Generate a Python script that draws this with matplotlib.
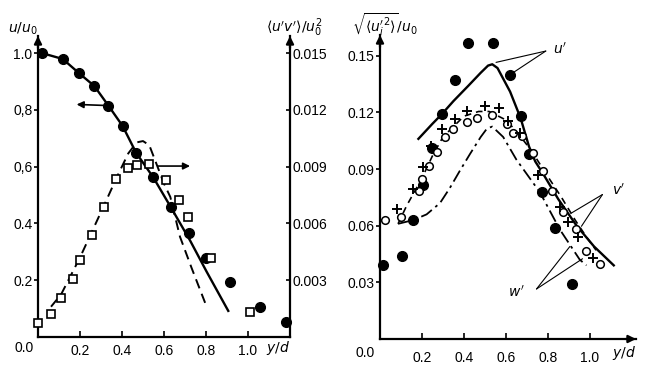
import matplotlib
matplotlib.use('Agg')
import matplotlib.pyplot as plt

plt.rcParams['font.family'] = ['Liberation Sans', 'DejaVu Sans']
plt.rcParams['mathtext.fontset'] = 'dejavusans'

# --- left panel: mean velocity u/u0 (circles) and shear stress <u'v'>/u0^2 (squares)
u_x = [0.018, 0.118, 0.197, 0.268, 0.335, 0.403, 0.467, 0.549, 0.631, 0.717, 0.802, 0.915, 1.059, 1.182]
u_y = [1.0, 0.979, 0.928, 0.884, 0.815, 0.743, 0.649, 0.562, 0.459, 0.367, 0.277, 0.195, 0.105, 0.054]
u_fit_x = [0.018, 0.118, 0.197, 0.268, 0.335, 0.403, 0.467, 0.549, 0.631, 0.724, 0.803, 0.906]
u_fit_y = [1.0, 0.979, 0.928, 0.884, 0.815, 0.743, 0.649, 0.562, 0.459, 0.34, 0.23, 0.092]

uv_x = [0.0, 0.06, 0.11, 0.165, 0.2, 0.256, 0.314, 0.373, 0.427, 0.47, 0.529, 0.61, 0.671, 0.716, 0.824, 1.01]
uv_y = [0.00075, 0.00122, 0.00204, 0.00305, 0.00405, 0.0054, 0.00689, 0.00836, 0.00894,
        0.00909, 0.00912, 0.0083, 0.00723, 0.00636, 0.00419, 0.00134]
uv_fit_x = [0.062, 0.11, 0.2, 0.3, 0.38, 0.43, 0.47, 0.50, 0.53, 0.557, 0.60, 0.63, 0.676, 0.732, 0.803]
uv_fit_y = [0.0016, 0.00225, 0.0042, 0.0066, 0.00855, 0.0097, 0.01028, 0.01035, 0.01013,
            0.00935, 0.0081, 0.0074, 0.0053, 0.00363, 0.0016]

# --- right panel: rms fluctuations
up_x = [0.013, 0.103, 0.159, 0.206, 0.246, 0.294, 0.357, 0.42, 0.537, 0.619, 0.67, 0.711, 0.77, 0.833, 0.917]
up_y = [0.039, 0.044, 0.063, 0.0815, 0.101, 0.119, 0.137, 0.157, 0.157, 0.140, 0.118, 0.098, 0.078, 0.059, 0.029]
up_fit_x = [0.183, 0.25, 0.294, 0.35, 0.42, 0.48, 0.515, 0.535, 0.56, 0.62, 0.67, 0.71, 0.74, 0.78, 0.85,
            0.937, 1.02, 1.114]
up_fit_y = [0.106, 0.114, 0.119, 0.126, 0.134, 0.141, 0.1448, 0.1455, 0.1435, 0.131, 0.117, 0.102, 0.094,
            0.087, 0.074, 0.06, 0.049, 0.039]

vp_x = [0.024, 0.098, 0.187, 0.198, 0.235, 0.27, 0.31, 0.349, 0.413, 0.46, 0.532, 0.603, 0.635, 0.675,
        0.73, 0.778, 0.818, 0.873, 0.933, 0.984, 1.05]
vp_y = [0.063, 0.0644, 0.0785, 0.0847, 0.0914, 0.0988, 0.1068, 0.111, 0.1147, 0.1168, 0.1186, 0.1138,
        0.109, 0.1073, 0.0985, 0.089, 0.0785, 0.067, 0.058, 0.0467, 0.0395]
vp_fit_x = [0.086, 0.127, 0.198, 0.25, 0.3, 0.4, 0.47, 0.52, 0.6, 0.65, 0.72, 0.8, 0.865, 0.93, 0.984, 1.03]
vp_fit_y = [0.061, 0.0706, 0.0847, 0.097, 0.107, 0.118, 0.1205, 0.1205, 0.116, 0.11, 0.1, 0.086,
            0.075, 0.063, 0.054, 0.047]

wp_x = [0.082, 0.159, 0.203, 0.245, 0.294, 0.357, 0.413, 0.5, 0.567, 0.611, 0.667, 0.754, 0.857, 0.897, 0.944, 1.013]
wp_y = [0.0688, 0.0794, 0.0909, 0.102, 0.111, 0.1165, 0.121, 0.1235, 0.1223, 0.1156, 0.109, 0.087,
        0.0697, 0.0618, 0.0538, 0.0427]
wp_fit_x = [0.086, 0.159, 0.222, 0.286, 0.333, 0.38, 0.429, 0.48, 0.51, 0.535, 0.587, 0.65, 0.762, 0.857,
            0.952, 0.984]
wp_fit_y = [0.061, 0.063, 0.066, 0.072, 0.08, 0.089, 0.098, 0.107, 0.1115, 0.1125, 0.107, 0.095, 0.0777,
            0.058, 0.042, 0.039]

W, H = 649, 365
fig = plt.figure(figsize=(W / 100, H / 100), dpi=100)


def axis_arrow(ax, horizontal=False, at=0.0):
    if horizontal:
        ax.annotate('', xy=(1.0, 0), xytext=(0.96, 0), xycoords='axes fraction',
                    arrowprops=dict(arrowstyle='-|>', lw=1.6, color='k', mutation_scale=11,
                                    shrinkA=0, shrinkB=0))
    else:
        ax.annotate('', xy=(at, 1.0), xytext=(at, 0.96), xycoords='axes fraction',
                    arrowprops=dict(arrowstyle='-|>', lw=1.6, color='k', mutation_scale=11,
                                    shrinkA=0, shrinkB=0))


# left panel
ax1 = fig.add_axes([38 / W, 28 / H, 252 / W, 301 / H])
ax1.set_xlim(0, 1.2)
ax1.set_ylim(0, 1.06)
ax1.plot(u_fit_x, u_fit_y, color='k', lw=1.7)
ax1.plot(u_x, u_y, 'o', color='k', ms=7, clip_on=False)
ax1.annotate('', xy=(0.184, 0.819), xytext=(0.335, 0.815),
             arrowprops=dict(arrowstyle='-|>', lw=1.2, color='k', mutation_scale=10, shrinkA=0, shrinkB=0))
ax1.annotate('', xy=(0.724, 0.602), xytext=(0.573, 0.602),
             arrowprops=dict(arrowstyle='-|>', lw=1.2, color='k', mutation_scale=10, shrinkA=0, shrinkB=0))

ax2 = ax1.twinx()
ax2.set_ylim(0, 1.06 * 0.015)
ax2.plot(uv_fit_x, uv_fit_y, color='k', lw=1.4, dashes=(5, 3))
ax2.plot(uv_x, uv_y, 's', mfc='white', mec='k', mew=1.2, ms=5.5, clip_on=False)

for a in (ax1, ax2):
    a.spines['top'].set_visible(False)
    for s in a.spines.values():
        s.set_linewidth(1.6)
ax1.spines['right'].set_visible(False)
ax2.spines['left'].set_visible(False)
ax2.spines['bottom'].set_visible(False)

ax1.set_yticks([0.2, 0.4, 0.6, 0.8, 1.0])
ax1.set_yticklabels(['0.2', '0.4', '0,6', '0,8', '1.0'])
ax1.set_xticks([0.2, 0.4, 0.6, 0.8, 1.0])
ax1.set_xticklabels(['0.2', '0.4', '0.6', '0.8', '1.0'])
ax1.tick_params(axis='y', direction='out', length=3, width=1.2, pad=1, labelsize=10)
ax1.tick_params(axis='x', direction='in', length=4, width=1.2, pad=5, labelsize=10)
ax2.set_yticks([0.003, 0.006, 0.009, 0.012, 0.015])
ax2.set_yticklabels(['0.003', '0.006', '0.009', '0.012', '0.015'])
ax2.tick_params(axis='y', direction='in', length=3, width=1.2, pad=2, labelsize=10)
axis_arrow(ax1, at=0.0)
axis_arrow(ax2, at=1.0)

fig.text(24 / W, 1 - 348 / H, '0.0', ha='center', va='center', fontsize=10)
fig.text(8 / W, 1 - 29 / H, r'$u/u_0$', ha='left', va='center', fontsize=10)
fig.text(266 / W, 1 - 28 / H, r"$\langle u'v'\rangle/u_0^2$", ha='left', va='center', fontsize=10)
fig.text(278 / W, 1 - 348 / H, r'$y/d$', ha='center', va='center', fontsize=10)

# right panel
ax3 = fig.add_axes([380 / W, 26 / H, 256 / W, 304 / H])
ax3.set_xlim(0, 1.22)
ax3.set_ylim(0, 0.161)
ax3.plot(up_fit_x, up_fit_y, color='k', lw=1.7)
ax3.plot(vp_fit_x, vp_fit_y, color='k', lw=1.2, dashes=(4, 3))
ax3.plot(wp_fit_x, wp_fit_y, color='k', lw=1.3, dashes=(7, 2.5, 1.5, 2.5))
ax3.plot(up_x, up_y, 'o', color='k', ms=7, clip_on=False)
ax3.plot(vp_x, vp_y, 'o', mfc='white', mec='k', mew=1.1, ms=5.5, clip_on=False)
ax3.plot(wp_x, wp_y, '+', color='k', mew=1.4, ms=7, clip_on=False)

# labels with leader lines
ax3.text(0.825, 0.1535, "$u'$", fontsize=10, ha='left', va='center')
ax3.annotate('', xy=(0.553, 0.1465), xytext=(0.79, 0.1525),
             arrowprops=dict(arrowstyle='-', lw=0.8, color='k', shrinkA=0, shrinkB=0))
ax3.annotate('', xy=(0.62, 0.140), xytext=(0.79, 0.1525),
             arrowprops=dict(arrowstyle='-', lw=0.8, color='k', shrinkA=0, shrinkB=0))
ax3.text(1.105, 0.0785, "$v'$", fontsize=10, ha='left', va='center')
ax3.annotate('', xy=(0.912, 0.0667), xytext=(1.06, 0.0765),
             arrowprops=dict(arrowstyle='-', lw=0.8, color='k', shrinkA=0, shrinkB=0))
ax3.annotate('', xy=(0.96, 0.0597), xytext=(1.06, 0.0765),
             arrowprops=dict(arrowstyle='-', lw=0.8, color='k', shrinkA=0, shrinkB=0))
ax3.text(0.69, 0.0245, "$w'$", fontsize=10, ha='right', va='center')
ax3.annotate('', xy=(0.905, 0.049), xytext=(0.746, 0.0265),
             arrowprops=dict(arrowstyle='-', lw=0.8, color='k', shrinkA=0, shrinkB=0))
ax3.annotate('', xy=(0.965, 0.0425), xytext=(0.746, 0.0265),
             arrowprops=dict(arrowstyle='-', lw=0.8, color='k', shrinkA=0, shrinkB=0))

ax3.spines['top'].set_visible(False)
ax3.spines['right'].set_visible(False)
for s in ax3.spines.values():
    s.set_linewidth(1.6)
ax3.set_yticks([0.03, 0.06, 0.09, 0.12, 0.15])
ax3.set_yticklabels(['0.03', '0.06', '0.09', '0.12', '0.15'])
ax3.set_xticks([0.2, 0.4, 0.6, 0.8, 1.0])
ax3.set_xticklabels(['0.2', '0.4', '0.6', '0.8', '1.0'])
ax3.tick_params(axis='y', direction='out', length=3, width=1.2, pad=1, labelsize=10)
ax3.tick_params(axis='x', direction='in', length=4, width=1.2, pad=9, labelsize=10)
axis_arrow(ax3, at=0.0)
axis_arrow(ax3, horizontal=True)

fig.text(365 / W, 1 - 353 / H, '0.0', ha='center', va='center', fontsize=10)
fig.text(352 / W, 1 - 25 / H, r"$\sqrt{\langle u_i'^2\rangle}/u_0$", ha='left', va='center', fontsize=10)
fig.text(624 / W, 1 - 353 / H, r'$y/d$', ha='center', va='center', fontsize=10)

fig.savefig('out.png', dpi=100)
